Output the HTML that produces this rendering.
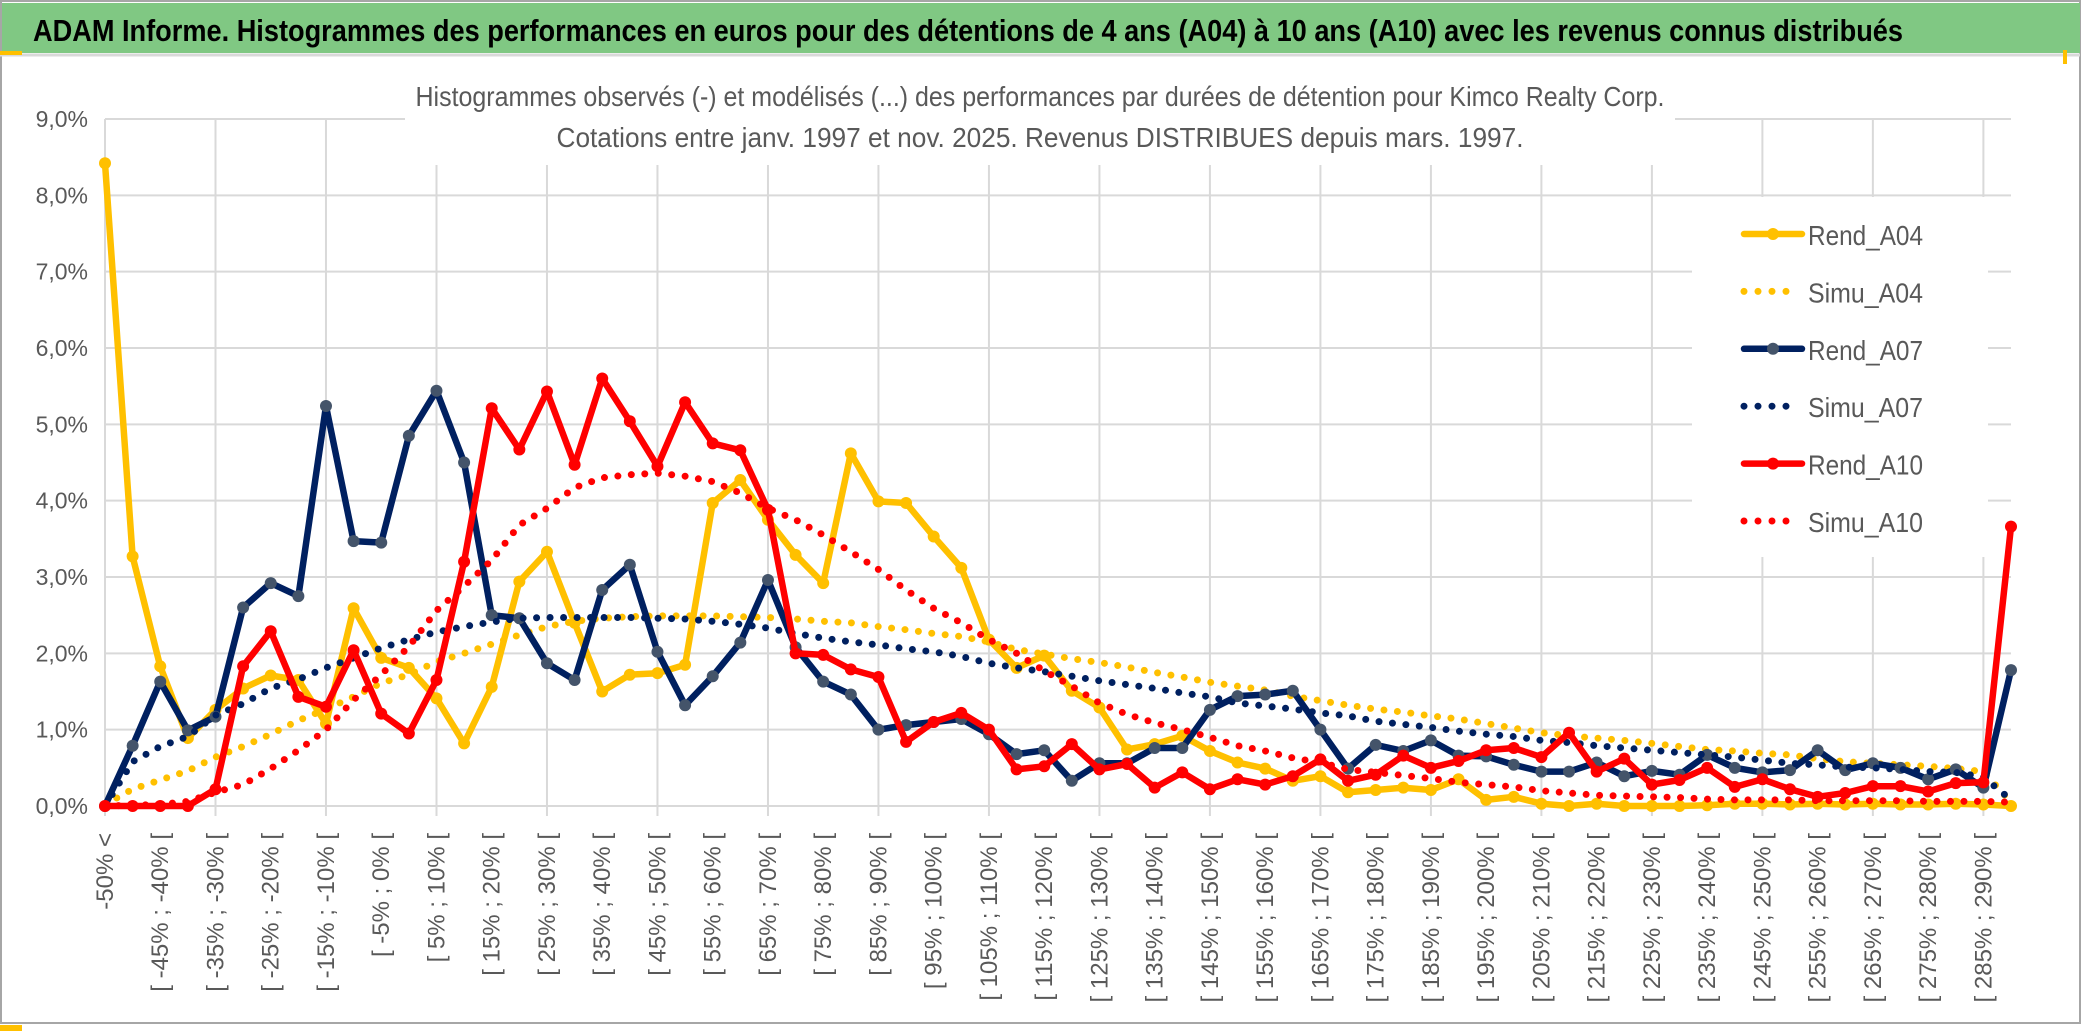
<!DOCTYPE html>
<html><head><meta charset="utf-8"><title>ADAM Informe - Kimco Realty Corp.</title>
<style>
html,body{margin:0;padding:0;background:#fff;}
svg{display:block;font-family:"Liberation Sans",sans-serif;}
</style></head>
<body>
<svg id="chart" width="2086" height="1033" viewBox="0 0 2086 1033" xmlns="http://www.w3.org/2000/svg">
  <rect x="0" y="0" width="2086" height="1033" fill="#ffffff"/>
  <rect x="1" y="1" width="2079" height="1022" fill="none" stroke="#a6a6a6" stroke-width="2"/>
  <rect x="2" y="3" width="2078" height="50" fill="#80c883"/>
  <line x1="0" y1="55" x2="2080" y2="55" stroke="#d9d9d9" stroke-width="3"/>
  <rect x="0" y="51" width="22" height="4" fill="#ffc000"/>
  <rect x="2063" y="50" width="4" height="14" fill="#ffc000"/>
  <rect x="0" y="1025" width="22" height="6" fill="#ffc000"/>
  <text x="33" y="41" font-size="31" font-weight="bold" fill="#000" textLength="1870" lengthAdjust="spacingAndGlyphs">ADAM Informe. Histogrammes des performances en euros pour des détentions de 4 ans (A04) à 10 ans (A10) avec les revenus connus distribués</text>
  <g id="grid"></g>
  <rect x="405" y="75" width="1270" height="90" fill="#ffffff"/>
  <text x="1040" y="106" font-size="28" fill="#595959" text-anchor="middle" textLength="1249" lengthAdjust="spacingAndGlyphs">Histogrammes observés (-) et modélisés (...) des performances par durées de détention pour Kimco Realty Corp.</text>
  <text x="1040" y="147" font-size="28" fill="#595959" text-anchor="middle" textLength="967" lengthAdjust="spacingAndGlyphs">Cotations entre janv. 1997 et nov. 2025. Revenus DISTRIBUES depuis mars. 1997.</text>
  <g id="yaxis"></g>
  <g id="xaxis"></g>
  <rect x="1692" y="197" width="296" height="360" fill="#ffffff"/>
  <g id="series"></g>
  <g id="legend"></g>
</svg>
<script>
// ---- chart data (values in %) ----
const rendA04 = [8.42,3.27,1.83,0.89,1.26,1.54,1.71,1.65,1.08,2.59,
 1.94,1.81,1.41,0.82,1.56,2.94,3.33,2.4,1.5,1.72,
 1.74,1.85,3.97,4.27,3.75,3.29,2.92,4.62,3.99,3.97,
 3.53,3.12,2.18,1.81,1.97,1.51,1.29,0.74,0.81,0.92,
 0.72,0.57,0.49,0.33,0.39,0.18,0.21,0.24,0.21,0.35,
 0.08,0.12,0.03,0,0.03,0,0,0,0.01,0.03,
 0.03,0.02,0.03,0.02,0.03,0.02,0.02,0.03,0.02,0];
const simuA04 = [0.02,0.22,0.34,0.46,0.64,0.78,0.94,1.12,1.27,1.43,
 1.61,1.72,1.89,2.0,2.12,2.24,2.35,2.42,2.46,2.48,
 2.49,2.49,2.49,2.48,2.47,2.45,2.42,2.4,2.35,2.31,
 2.26,2.22,2.15,2.05,1.99,1.93,1.88,1.82,1.75,1.69,
 1.62,1.57,1.52,1.44,1.38,1.32,1.27,1.23,1.18,1.14,
 1.08,1.02,0.96,0.92,0.89,0.86,0.82,0.78,0.74,0.72,
 0.69,0.67,0.62,0.58,0.56,0.54,0.52,0.49,0.45,0.05];
const rendA07 = [0,0.79,1.63,0.99,1.17,2.6,2.92,2.75,5.24,3.47,
 3.45,4.85,5.44,4.5,2.5,2.46,1.87,1.65,2.83,3.16,
 2.02,1.32,1.7,2.14,2.96,2.08,1.63,1.46,1.0,1.06,
 1.1,1.14,0.94,0.68,0.73,0.33,0.56,0.56,0.76,0.76,
 1.26,1.44,1.46,1.51,1.0,0.49,0.8,0.72,0.86,0.66,
 0.65,0.54,0.45,0.45,0.57,0.39,0.46,0.41,0.67,0.5,
 0.44,0.47,0.73,0.47,0.56,0.5,0.35,0.48,0.24,1.78];
const simuA07 = [0.0,0.58,0.78,0.91,1.19,1.34,1.54,1.66,1.81,1.94,
 2.07,2.18,2.28,2.35,2.41,2.46,2.47,2.47,2.47,2.47,
 2.46,2.45,2.42,2.38,2.33,2.26,2.2,2.15,2.11,2.06,
 2.02,1.96,1.87,1.81,1.76,1.7,1.64,1.59,1.54,1.48,
 1.43,1.35,1.31,1.27,1.22,1.18,1.11,1.07,1.03,0.98,
 0.94,0.91,0.86,0.83,0.79,0.76,0.73,0.7,0.67,0.64,
 0.6,0.56,0.54,0.51,0.5,0.48,0.45,0.44,0.38,0.08];
const rendA10 = [0,0,0,0,0.22,1.83,2.29,1.43,1.3,2.04,
 1.21,0.95,1.65,3.2,5.21,4.67,5.43,4.47,5.6,5.04,
 4.45,5.29,4.75,4.66,3.88,2.0,1.98,1.79,1.69,0.84,
 1.1,1.22,1.0,0.48,0.52,0.81,0.48,0.55,0.24,0.44,
 0.22,0.35,0.28,0.39,0.61,0.33,0.41,0.66,0.5,0.59,
 0.73,0.76,0.64,0.96,0.45,0.62,0.28,0.34,0.5,0.25,
 0.35,0.22,0.12,0.17,0.26,0.26,0.19,0.3,0.31,3.66];
const simuA10 = [0,0.01,0.02,0.06,0.18,0.28,0.49,0.73,1.0,1.39,
 1.72,2.09,2.56,2.88,3.22,3.68,3.9,4.17,4.3,4.34,
 4.36,4.32,4.25,4.1,3.9,3.75,3.55,3.33,3.1,2.83,
 2.59,2.4,2.18,2.0,1.77,1.57,1.35,1.2,1.09,1.0,
 0.9,0.79,0.72,0.63,0.57,0.48,0.44,0.4,0.36,0.31,
 0.28,0.25,0.2,0.17,0.14,0.13,0.12,0.11,0.09,0.08,
 0.08,0.08,0.07,0.07,0.07,0.07,0.06,0.06,0.06,0.05];
const yTicks = [0,1,2,3,4,5,6,7,8,9];
const yTickLabels = ["0,0%","1,0%","2,0%","3,0%","4,0%","5,0%","6,0%","7,0%","8,0%","9,0%"];
const categories = ["-50% <"];
for (let i = 1; i < 70; i++) { const a = -50 + 5*(i-1); categories.push("[ " + a + "% ; " + (a+5) + "% ["); }

// ---- axes ----
const NS = "http://www.w3.org/2000/svg";
const X0 = 105, X1 = 2011, Y0 = 806, Y9 = 119;
function xPos(i){ return X0 + (X1 - X0) * i / (categories.length - 1); }
function yPos(v){ return Y0 - (Y0 - Y9) * v / 9; }
function mk(tag, attrs, parent){ const e = document.createElementNS(NS, tag); for (const k in attrs) e.setAttribute(k, attrs[k]); parent.appendChild(e); return e; }

const grid = document.getElementById('grid');
yTicks.forEach((t, i) => {
  const l = mk('line', {x1:X0, x2:X1, y1:yPos(t), y2:yPos(t), stroke:'#d9d9d9', 'stroke-width':2}, grid);
  
  
});
for (let i = 0; i < categories.length; i += 4) {
  const l = mk('line', {x1:xPos(i), x2:xPos(i), y1:Y9, y2:Y0 + 10, stroke:'#d9d9d9', 'stroke-width':2}, grid);
  
  
}
const yaxis = document.getElementById('yaxis');
yTicks.forEach((t, i) => {
  const tx = mk('text', {x:88, y:yPos(t) + 8, 'font-size':23, fill:'#595959', 'text-anchor':'end'}, yaxis);
  tx.textContent = yTickLabels[i];
  
  
});
const xaxis = document.getElementById('xaxis');
categories.forEach((c, i) => {
  if (i % 2) return;
  const x = xPos(i) + 8, y = 833;
  const tx = mk('text', {x:x, y:y, 'font-size':24, fill:'#595959', 'text-anchor':'end', transform:'rotate(-90 ' + x + ' ' + y + ')'}, xaxis);
  tx.textContent = c;
  
  
});

// ---- series ----
const seriesDefs = [
  {name:'Rend_A04', data:rendA04, color:'#ffc000', marker:'#ffc000', dotted:false},
  {name:'Simu_A04', data:simuA04, color:'#ffc000', dotted:true},
  {name:'Rend_A07', data:rendA07, color:'#002060', marker:'#44546a', dotted:false},
  {name:'Simu_A07', data:simuA07, color:'#002060', dotted:true},
  {name:'Rend_A10', data:rendA10, color:'#ff0000', marker:'#ff0000', dotted:false},
  {name:'Simu_A10', data:simuA10, color:'#ff0000', dotted:true}
];
const sg = document.getElementById('series');
seriesDefs.forEach(s => {
  const g = mk('g', {}, sg);
  
  
  const pts = s.data.map((v, i) => xPos(i).toFixed(1) + ',' + yPos(v).toFixed(1)).join(' ');
  const attrs = {points:pts, fill:'none', stroke:s.color, 'stroke-linejoin':'round', 'stroke-linecap':'round'};
  if (s.dotted) { attrs['stroke-width'] = 7; attrs['stroke-dasharray'] = '0 13.5'; }
  else { attrs['stroke-width'] = 6.5; }
  const pl = mk('polyline', attrs, g);
  
  
  if (!s.dotted) {
    s.data.forEach((v, i) => {
      const c = mk('circle', {cx:xPos(i), cy:yPos(v), r:6, fill:s.marker}, g);
      
      
    });
  }
});

// ---- legend ----
const lg = document.getElementById('legend');
seriesDefs.forEach((s, i) => {
  const y = 234 + i * 57.4;
  const g = mk('g', {}, lg);
  
  
  if (s.dotted) {
    mk('line', {x1:1744, x2:1800, y1:y, y2:y, stroke:s.color, 'stroke-width':7, 'stroke-linecap':'round', 'stroke-dasharray':'0 14'}, g);
  } else {
    mk('line', {x1:1744, x2:1802, y1:y, y2:y, stroke:s.color, 'stroke-width':6.5, 'stroke-linecap':'round'}, g);
    mk('circle', {cx:1773, cy:y, r:6, fill:s.marker}, g);
  }
  const t = mk('text', {x:1808, y:y + 11, 'font-size':28, fill:'#595959', textLength:115, lengthAdjust:'spacingAndGlyphs'}, g);
  t.textContent = s.name;
});
</script>
</body></html>
